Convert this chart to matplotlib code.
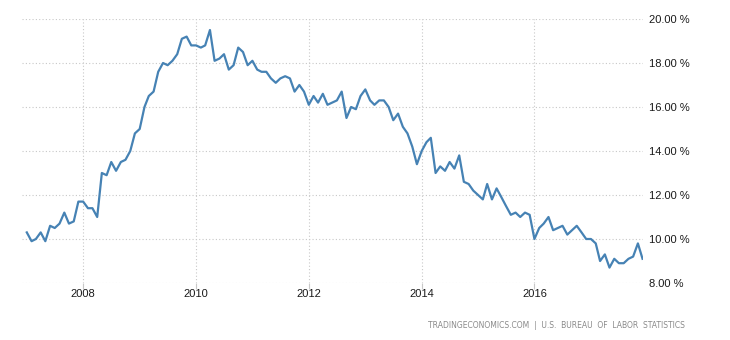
import matplotlib
matplotlib.use("Agg")
import matplotlib.pyplot as plt
import pandas as pd

start_month = "2007-01-01"
values = [
    # 2007
    10.3, 9.9, 10.0, 10.3, 9.9, 10.6, 10.5, 10.7, 11.2, 10.7, 10.8, 11.7,
    # 2008
    11.7, 11.4, 11.4, 11.0, 13.0, 12.9, 13.5, 13.1, 13.5, 13.6, 14.0, 14.8,
    # 2009
    15.0, 16.0, 16.5, 16.7, 17.6, 18.0, 17.9, 18.1, 18.4, 19.1, 19.2, 18.8,
    # 2010
    18.8, 18.7, 18.8, 19.5, 18.1, 18.2, 18.4, 17.7, 17.9, 18.7, 18.5, 17.9,
    # 2011
    18.1, 17.7, 17.6, 17.6, 17.3, 17.1, 17.3, 17.4, 17.3, 16.7, 17.0, 16.7,
    # 2012
    16.1, 16.5, 16.2, 16.6, 16.1, 16.2, 16.3, 16.7, 15.5, 16.0, 15.9, 16.5,
    # 2013
    16.8, 16.3, 16.1, 16.3, 16.3, 16.0, 15.4, 15.7, 15.1, 14.8, 14.2, 13.4,
    # 2014
    14.0, 14.4, 14.6, 13.0, 13.3, 13.1, 13.5, 13.2, 13.8, 12.6, 12.5, 12.2,
    # 2015
    12.0, 11.8, 12.5, 11.8, 12.3, 11.9, 11.5, 11.1, 11.2, 11.0, 11.2, 11.1,
    # 2016
    10.0, 10.5, 10.7, 11.0, 10.4, 10.5, 10.6, 10.2, 10.4, 10.6, 10.3, 10.0,
    # 2017
    10.0, 9.8, 9.0, 9.3, 8.7, 9.1, 8.9, 8.9, 9.1, 9.2, 9.8, 9.1,
]
x_tick_years = [2008, 2010, 2012, 2014, 2016]
y_ticks = [8, 10, 12, 14, 16, 18, 20]
source_text = "TRADINGECONOMICS.COM  |  U.S.  BUREAU  OF  LABOR  STATISTICS"

dates = pd.date_range(start_month, periods=len(values), freq="MS")

fig = plt.figure(figsize=(7.3, 3.4), dpi=100)
ax = fig.add_axes([22 / 730, 1 - 283 / 340, (643 - 22) / 730, (283 - 19) / 340])

ax.plot(dates, values, color="#4682b4", linewidth=1.6, solid_joinstyle="round")

ax.set_ylim(8, 20)
ax.set_xlim(pd.Timestamp("2006-12-01"), pd.Timestamp("2017-12-04"))
ax.set_yticks(y_ticks)
ax.set_yticklabels([f"{v:.2f} %" for v in y_ticks])
ax.set_xticks([pd.Timestamp(f"{y}-01-01") for y in x_tick_years])
ax.set_xticklabels([str(y) for y in x_tick_years])

ax.yaxis.tick_right()
for s in ax.spines.values():
    s.set_visible(False)
ax.grid(True, color="#c8c8c8", linestyle=(0, (1, 2)), linewidth=0.8)
ax.set_axisbelow(True)
for lab in ax.get_xticklabels() + ax.get_yticklabels():
    lab.set_family("Liberation Sans")
ax.tick_params(axis="y", length=0, pad=4, labelsize=8, labelcolor="#1a1a1a")
ax.tick_params(axis="x", length=4, color="#c8c8c8", width=0.8, pad=0.5,
               labelsize=8, labelcolor="#1a1a1a")

fig.text(685 / 730, 1 - 325 / 340, source_text, ha="right", va="center",
         fontsize=5.5, color="#8a8a8a")

fig.savefig("out.png", dpi=100, facecolor="white")
